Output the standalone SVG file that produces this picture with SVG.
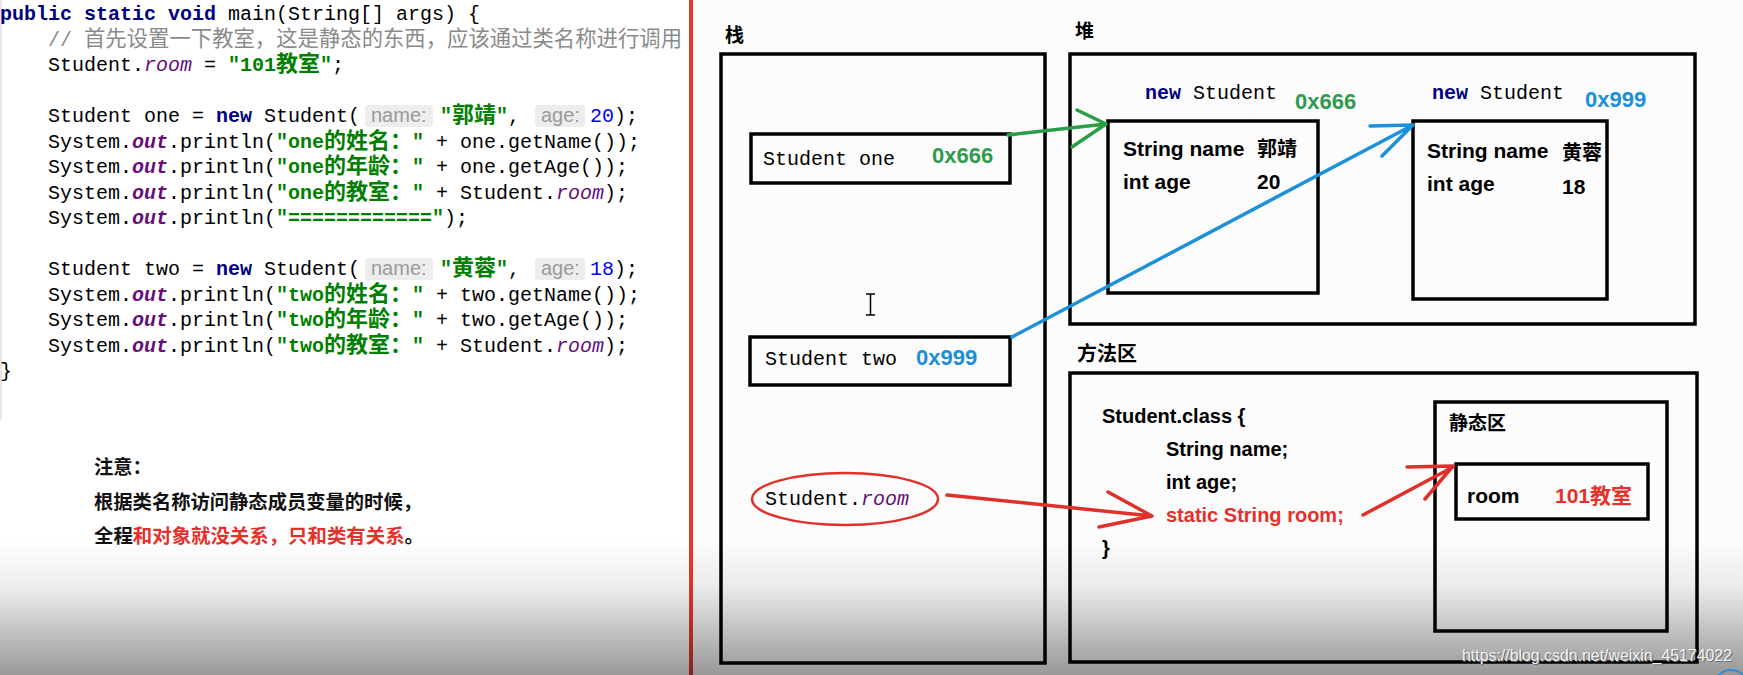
<svg xmlns="http://www.w3.org/2000/svg" width="1743" height="675" viewBox="0 0 1743 675">
<defs>
<style>
.code{font-family:"Liberation Mono","Noto Sans CJK SC",monospace;font-size:20px;fill:#000}
.cjk{font-family:"Noto Sans CJK SC",sans-serif;font-size:22px}
.kw{fill:#000080;font-weight:bold}
.str{fill:#008000;font-weight:bold}
.fld{fill:#660e7a;font-style:italic}
.sfld{fill:#660e7a;font-style:italic;font-weight:bold}
.num{fill:#0000ff}
.cmt{fill:#8a8a8a}
.hint{font-family:"Liberation Sans",sans-serif;font-size:20px;fill:#9a9a9a}
.hintbg{fill:#ededed}
.note{font-family:"Noto Sans CJK SC",sans-serif;font-size:19.3px;font-weight:bold;fill:#111}
.box{fill:none;stroke:#000;stroke-width:3.5}
.lbl{font-family:"Noto Sans CJK SC",sans-serif;font-weight:bold;font-size:19px;fill:#000}
.mono{font-family:"Liberation Mono",monospace;font-size:20px;fill:#000}
.b{font-family:"Liberation Sans","Noto Sans CJK SC",sans-serif;font-weight:bold;font-size:21px;fill:#000}
.bc{font-family:"Noto Sans CJK SC",sans-serif;font-weight:bold;font-size:20px;fill:#000}
.addr{font-family:"Liberation Sans",sans-serif;font-weight:bold;font-size:22px}
.g{fill:#2f9b4f}
.bl{fill:#1c8fd8}
.cls{font-family:"Liberation Sans",sans-serif;font-weight:bold;font-size:20px;fill:#000}
.arrow{fill:none;stroke-width:3.5;stroke-linecap:round;stroke-linejoin:round}
.red{fill:#e5312b}
</style>
<linearGradient id="shade" x1="0" y1="0" x2="0" y2="1">
<stop offset="0" stop-color="#000" stop-opacity="0"/>
<stop offset="0.35" stop-color="#000" stop-opacity="0.07"/>
<stop offset="1" stop-color="#000" stop-opacity="0.4"/>
</linearGradient>
</defs>

<rect x="0" y="0" width="1743" height="675" fill="#ffffff"/>
<rect x="693" y="0" width="1050" height="675" fill="#fcfcfc"/>
<rect x="0" y="0" width="2" height="420" fill="#e8e8e8"/>
<rect x="689" y="0" width="4" height="675" fill="#e53a2e"/>

<g id="code">
<text class="code" x="0" y="20"><tspan class="kw">public static void</tspan> main(String[] args) {</text>
<text class="code cmt" x="48" y="46">//</text><text class="cjk cmt" x="84" y="46" textLength="598" lengthAdjust="spacingAndGlyphs">首先设置一下教室，这是静态的东西，应该通过类名称进行调用</text>
<text class="code" y="71"><tspan x="48">Student.</tspan><tspan class="fld">room</tspan> = <tspan class="str">"101</tspan><tspan class="str cjk" x="276">教室</tspan><tspan class="str" x="320">"</tspan><tspan x="332">;</tspan></text>

<text class="code" y="122"><tspan x="48">Student one = </tspan><tspan class="kw">new</tspan> Student(</text>
<rect class="hintbg" x="365" y="105" width="68" height="22" rx="3"/><text class="hint" x="371" y="122">name:</text>
<text class="code" y="122"><tspan class="str" x="440">"</tspan><tspan class="str cjk" x="452">郭靖</tspan><tspan class="str" x="496">"</tspan><tspan x="508">,</tspan></text>
<rect class="hintbg" x="535" y="105" width="50" height="22" rx="3"/><text class="hint" x="541" y="122">age:</text>
<text class="code" y="122"><tspan class="num" x="590">20</tspan>);</text>

<text class="code" y="148"><tspan x="48">System.</tspan><tspan class="sfld">out</tspan>.println(<tspan class="str">"one</tspan><tspan class="str cjk" x="324">的姓名：</tspan><tspan class="str" x="412">"</tspan><tspan x="436">+ one.getName());</tspan></text>
<text class="code" y="173"><tspan x="48">System.</tspan><tspan class="sfld">out</tspan>.println(<tspan class="str">"one</tspan><tspan class="str cjk" x="324">的年龄：</tspan><tspan class="str" x="412">"</tspan><tspan x="436">+ one.getAge());</tspan></text>
<text class="code" y="199"><tspan x="48">System.</tspan><tspan class="sfld">out</tspan>.println(<tspan class="str">"one</tspan><tspan class="str cjk" x="324">的教室：</tspan><tspan class="str" x="412">"</tspan><tspan x="436">+ Student.</tspan><tspan class="fld">room</tspan>);</text>
<text class="code" y="224"><tspan x="48">System.</tspan><tspan class="sfld">out</tspan>.println(<tspan class="str">"============"</tspan>);</text>

<text class="code" y="275"><tspan x="48">Student two = </tspan><tspan class="kw">new</tspan> Student(</text>
<rect class="hintbg" x="365" y="258" width="68" height="22" rx="3"/><text class="hint" x="371" y="275">name:</text>
<text class="code" y="275"><tspan class="str" x="440">"</tspan><tspan class="str cjk" x="452">黄蓉</tspan><tspan class="str" x="496">"</tspan><tspan x="508">,</tspan></text>
<rect class="hintbg" x="535" y="258" width="50" height="22" rx="3"/><text class="hint" x="541" y="275">age:</text>
<text class="code" y="275"><tspan class="num" x="590">18</tspan>);</text>

<text class="code" y="301"><tspan x="48">System.</tspan><tspan class="sfld">out</tspan>.println(<tspan class="str">"two</tspan><tspan class="str cjk" x="324">的姓名：</tspan><tspan class="str" x="412">"</tspan><tspan x="436">+ two.getName());</tspan></text>
<text class="code" y="326"><tspan x="48">System.</tspan><tspan class="sfld">out</tspan>.println(<tspan class="str">"two</tspan><tspan class="str cjk" x="324">的年龄：</tspan><tspan class="str" x="412">"</tspan><tspan x="436">+ two.getAge());</tspan></text>
<text class="code" y="352"><tspan x="48">System.</tspan><tspan class="sfld">out</tspan>.println(<tspan class="str">"two</tspan><tspan class="str cjk" x="324">的教室：</tspan><tspan class="str" x="412">"</tspan><tspan x="436">+ Student.</tspan><tspan class="fld">room</tspan>);</text>
<text class="code" x="0" y="377">}</text>
</g>

<g id="note">
<text class="note" x="94" y="474">注意：</text>
<text class="note" x="94" y="509" textLength="328" lengthAdjust="spacingAndGlyphs">根据类名称访问静态成员变量的时候，</text>
<text class="note" x="94" y="543" textLength="330" lengthAdjust="spacingAndGlyphs">全程<tspan class="red">和对象就没关系，只和类有关系</tspan>。</text>
</g>

<g id="stack">
<text class="lbl" x="725" y="42">栈</text>
<rect class="box" x="721" y="54" width="324" height="609"/>
</g>
<g id="stack-one">
<rect class="box" x="751" y="134" width="259" height="49"/>
<text class="mono" x="763" y="165">Student one</text>
<text class="addr g" x="932" y="163">0x666</text>
</g>
<g id="stack-two">
<rect class="box" x="750" y="337" width="260" height="48"/>
<text class="mono" x="765" y="365">Student two</text>
<text class="addr bl" x="916" y="365">0x999</text>
</g>
<g id="stack-room">
<ellipse cx="845" cy="499" rx="93" ry="26" fill="none" stroke="#e0302a" stroke-width="2.5"/>
<text class="mono" x="765" y="505">Student.<tspan class="fld">room</tspan></text>
</g>
<g id="cursor">
<path d="M866,294 H875 M870.5,294 V315 M866,315 H875" fill="none" stroke="#000" stroke-width="1.5"/>
</g>

<g id="heap">
<text class="lbl" x="1075" y="38">堆</text>
<rect class="box" x="1070" y="54" width="625" height="270"/>
</g>
<g id="obj-one">
<text class="mono" x="1145" y="99"><tspan class="kw">new</tspan> Student</text>
<text class="addr g" x="1295" y="109">0x666</text>
<rect class="box" x="1108" y="121" width="210" height="172"/>
<text class="b" x="1123" y="156">String name</text>
<text class="bc" x="1257" y="156">郭靖</text>
<text class="b" x="1123" y="189">int age</text>
<text class="b" x="1257" y="189">20</text>
</g>
<g id="obj-two">
<text class="mono" x="1432" y="99"><tspan class="kw">new</tspan> Student</text>
<text class="addr bl" x="1585" y="107">0x999</text>
<rect class="box" x="1413" y="121" width="194" height="178"/>
<text class="b" x="1427" y="158">String name</text>
<text class="bc" x="1562" y="160">黄蓉</text>
<text class="b" x="1427" y="191">int age</text>
<text class="b" x="1562" y="194">18</text>
</g>

<g id="method-area">
<text class="lbl" x="1077" y="361" style="font-size:20px">方法区</text>
<rect class="box" x="1070" y="373" width="627" height="289"/>
<text class="cls" x="1102" y="423">Student.class {</text>
<text class="cls" x="1166" y="456">String name;</text>
<text class="cls" x="1166" y="489">int age;</text>
<text class="cls red" x="1166" y="522">static String room;</text>
<text class="cls" x="1102" y="555">}</text>
</g>
<g id="static-area">
<rect class="box" x="1435" y="402" width="232" height="229"/>
<text class="lbl" x="1449" y="430">静态区</text>
</g>
<g id="static-room">
<rect class="box" x="1456" y="464" width="192" height="55"/>
<text class="b" x="1467" y="503">room</text>
<text class="b red" x="1555" y="503">101<tspan font-family="Noto Sans CJK SC">教室</tspan></text>
</g>

<g id="connectors">
<path class="arrow" stroke="#2a9d47" d="M1008,135 L1106,124 M1077,110 L1106,124 L1072,147"/>
<path class="arrow" stroke="#1c90da" d="M1012,337 L1413,125 M1370,126 L1413,125 L1382,156"/>
<path class="arrow" stroke="#e0302a" stroke-width="3" d="M947,495 L1152,516 M1108,492 L1152,516 L1099,527"/>
<path class="arrow" stroke="#e0302a" stroke-width="3" d="M1363,515 L1453,467 M1407,467 L1453,466 L1425,499"/>
</g>

<rect x="0" y="540" width="1743" height="135" fill="url(#shade)"/>
<circle cx="1731" cy="687" r="17" fill="none" stroke="#2b8de0" stroke-width="2"/>
<text x="1463" y="662" font-family="Liberation Sans,sans-serif" font-size="17" fill="#6e6e6e" textLength="270" lengthAdjust="spacingAndGlyphs">https://blog.csdn.net/weixin_45174022</text>
<text x="1462" y="661" font-family="Liberation Sans,sans-serif" font-size="17" fill="#f2f2f2" textLength="270" lengthAdjust="spacingAndGlyphs">https://blog.csdn.net/weixin_45174022</text>
</svg>
